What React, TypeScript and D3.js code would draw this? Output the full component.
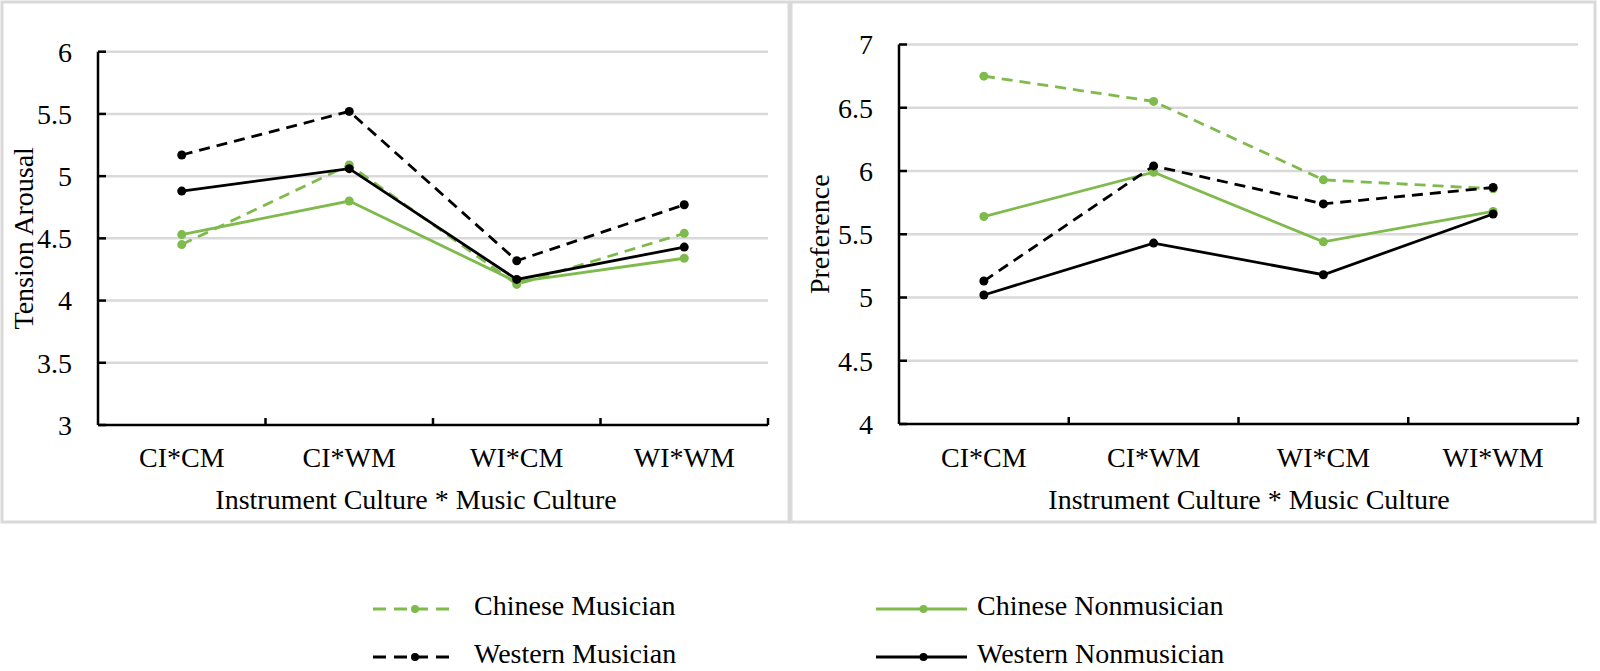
import React from 'react';
import * as d3 from 'd3';

const categories = ['CI*CM', 'CI*WM', 'WI*CM', 'WI*WM'];

// Tension Arousal panel
const tensionTicks = [3, 3.5, 4, 4.5, 5, 5.5, 6];
const tensionChineseMusician = [4.45, 5.09, 4.13, 4.54];
const tensionChineseNonmusician = [4.53, 4.8, 4.15, 4.34];
const tensionWesternMusician = [5.17, 5.52, 4.32, 4.77];
const tensionWesternNonmusician = [4.88, 5.06, 4.17, 4.43];

// Preference panel
const prefTicks = [4, 4.5, 5, 5.5, 6, 6.5, 7];
const prefChineseMusician = [6.75, 6.55, 5.93, 5.86];
const prefChineseNonmusician = [5.64, 5.99, 5.44, 5.68];
const prefWesternMusician = [5.13, 6.04, 5.74, 5.87];
const prefWesternNonmusician = [5.02, 5.43, 5.18, 5.66];

const seriesNames = ['Chinese Musician', 'Chinese Nonmusician', 'Western Musician', 'Western Nonmusician'];

const GREEN = '#7fba4c';
const GRID = '#d9d9d9';
const FONT = '"Liberation Serif", "Times New Roman", serif';
const FS = 28;
const DASH = '11,7';

const seriesStyle: Record<string, { color: string; dash?: string }> = {
  'Chinese Musician': { color: GREEN, dash: DASH },
  'Chinese Nonmusician': { color: GREEN },
  'Western Musician': { color: '#000', dash: DASH },
  'Western Nonmusician': { color: '#000' },
};

interface PanelProps {
  left: number;
  right: number;
  top: number;
  bottom: number;
  ticks: number[];
  values: number[][];
  yTitle: string;
  yTitleX: number;
  xTitleX: number;
}

function Panel({ left, right, top, bottom, ticks, values, yTitle, yTitleX, xTitleX }: PanelProps) {
  const x = d3.scaleBand<string>().domain(categories).range([left, right]);
  const y = d3.scaleLinear().domain(d3.extent(ticks) as [number, number]).range([bottom, top]);
  const cx = (i: number) => (x(categories[i]) as number) + x.bandwidth() / 2;
  const line = d3
    .line<number>()
    .x((_, i) => cx(i))
    .y((d) => y(d));

  const boundaries = categories.map((c) => (x(c) as number) + x.bandwidth());

  return (
    <g>
      {/* gridlines */}
      {ticks.slice(1).map((t) => (
        <line key={t} x1={left} x2={right} y1={y(t)} y2={y(t)} stroke={GRID} strokeWidth={2.5} />
      ))}
      {/* y ticks + labels */}
      {ticks.map((t) => (
        <g key={'yt' + t}>
          <line x1={left} x2={left + 8} y1={y(t)} y2={y(t)} stroke="#000" strokeWidth={2.5} />
          <text x={left - 26} y={y(t)} dy="0.35em" textAnchor="end" fontSize={FS} fontFamily={FONT}>
            {t}
          </text>
        </g>
      ))}
      {/* axes */}
      <line x1={left} x2={left} y1={top} y2={bottom} stroke="#000" strokeWidth={2.5} />
      <line x1={left} x2={right} y1={bottom} y2={bottom} stroke="#000" strokeWidth={2.5} />
      {boundaries.map((bx, i) => (
        <line key={'xt' + i} x1={bx} x2={bx} y1={bottom} y2={bottom - 7} stroke="#000" strokeWidth={2.5} />
      ))}
      {categories.map((c, i) => (
        <text key={c} x={cx(i)} y={467} textAnchor="middle" fontSize={FS} fontFamily={FONT}>
          {c}
        </text>
      ))}
      <text x={xTitleX} y={509} textAnchor="middle" fontSize={FS} fontFamily={FONT}>
        Instrument Culture * Music Culture
      </text>
      <text
        transform={`translate(${yTitleX},${(top + bottom) / 2}) rotate(-90)`}
        textAnchor="middle"
        fontSize={FS}
        fontFamily={FONT}
      >
        {yTitle}
      </text>
      {/* series */}
      {values.map((vals, si) => {
        const st = seriesStyle[seriesNames[si]];
        return (
          <g key={seriesNames[si]}>
            <path d={line(vals) || ''} fill="none" stroke={st.color} strokeWidth={2.8} strokeDasharray={st.dash} />
            {vals.map((v, i) => (
              <circle key={i} cx={cx(i)} cy={y(v)} r={4.5} fill={st.color} />
            ))}
          </g>
        );
      })}
    </g>
  );
}

function LegendItem({ name, lx0, lx1, tx, ly }: { name: string; lx0: number; lx1: number; tx: number; ly: number }) {
  const st = seriesStyle[name];
  return (
    <g>
      <line
        x1={lx0}
        x2={lx1}
        y1={ly}
        y2={ly}
        stroke={st.color}
        strokeWidth={3}
        strokeDasharray={st.dash ? '13,8' : undefined}
      />
      <circle cx={(lx0 + lx1) / 2 + 2} cy={ly} r={4} fill={st.color} />
      <text x={tx} y={ly + 6} fontSize={FS} fontFamily={FONT}>
        {name}
      </text>
    </g>
  );
}

export default function App() {
  return (
    <svg width={1600} height={671} style={{ position: 'absolute', left: 0, top: 0, background: '#fff' }}>
      {/* panel frames */}
      <rect x={2} y={2} width={787} height={520} fill="#fff" stroke={GRID} strokeWidth={3} />
      <rect x={791} y={2} width={804} height={520} fill="#fff" stroke={GRID} strokeWidth={3} />

      <Panel
        left={98}
        right={768}
        top={51.7}
        bottom={425}
        ticks={tensionTicks}
        values={[tensionChineseMusician, tensionChineseNonmusician, tensionWesternMusician, tensionWesternNonmusician]}
        yTitle="Tension Arousal"
        yTitleX={33}
        xTitleX={416}
      />
      <Panel
        left={899}
        right={1578}
        top={44.5}
        bottom={424}
        ticks={prefTicks}
        values={[prefChineseMusician, prefChineseNonmusician, prefWesternMusician, prefWesternNonmusician]}
        yTitle="Preference"
        yTitleX={829}
        xTitleX={1249}
      />

      <LegendItem name="Chinese Musician" lx0={373} lx1={453} tx={474} ly={609} />
      <LegendItem name="Western Musician" lx0={373} lx1={453} tx={474} ly={657} />
      <LegendItem name="Chinese Nonmusician" lx0={876} lx1={967} tx={977} ly={609} />
      <LegendItem name="Western Nonmusician" lx0={876} lx1={967} tx={977} ly={657} />
    </svg>
  );
}
